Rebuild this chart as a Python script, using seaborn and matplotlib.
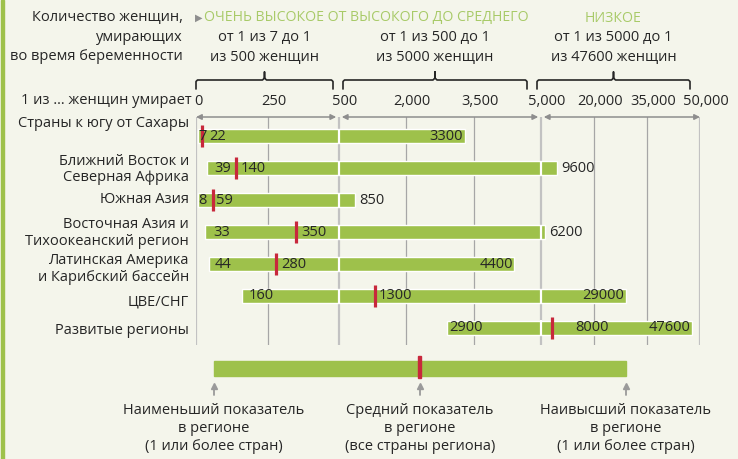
import numpy as np
import matplotlib.pyplot as plt
import matplotlib.transforms as mtransforms
from matplotlib.patches import Rectangle
from matplotlib.lines import Line2D
import seaborn as sns

# данные: риск материнской смертности (1 из N женщин)
regions = ["Страны к югу от Сахары", "Ближний Восток и\nСеверная Африка", "Южная Азия",
           "Восточная Азия и\nТихоокеанский регион", "Латинская Америка\nи Карибский бассейн",
           "ЦВЕ/СНГ", "Развитые регионы"]
lowest = [7, 39, 8, 33, 44, 160, 2900]
average = [22, 140, 59, 350, 280, 1300, 8000]
highest = [3300, 9600, 850, 6200, 4400, 29000, 47600]

tick_values = [0, 250, 500, 2000, 3500, 5000, 20000, 35000, 50000]
tick_labels = ["0", "250", "500", "2,000", "3,500", "5,000", "20,000", "35,000", "50,000"]
breaks = [0, 500, 5000, 50000]
break_px = [0, 143, 345, 504]

# оформление
W, H = 738, 459
BG = "#f4f5eb"
GREEN = "#9ec14b"
LIGHT_GREEN = "#a8ca68"
RED = "#c8283c"
TXT = "#262626"
GRAY = "#8e8e8e"
FS = 10.5

sns.set_theme(style="white")
plt.rcParams["font.family"] = ["Open Sans", "DejaVu Sans"]
plt.rcParams["text.color"] = TXT


def fx(x):
    return x / W


def fy(y):
    return 1 - y / H


def fwd(v):
    return np.interp(v, breaks, break_px)


def inv(p):
    return np.interp(p, break_px, breaks)


fig = plt.figure(figsize=(W / 100, H / 100), dpi=100, facecolor=BG)
ax = fig.add_axes([fx(196), fy(345), 504 / W, 228 / H])
ax.set_facecolor("none")
ax.set_xscale("function", functions=(fwd, inv))
rows = np.arange(len(regions))
row_px = 31.9

# сетка
for v in tick_values:
    if v in breaks:
        ax.axvline(v, color="#c2c2c2", lw=1.6, zorder=1)
    else:
        ax.axvline(v, color="#a6a6a6", lw=0.9, zorder=1)

# полосы
ax.barh(rows, np.array(highest) - np.array(lowest), left=lowest, height=0.44,
        color=GREEN, zorder=2)
for i in rows:
    for b in breaks[1:3]:
        if lowest[i] < b < highest[i]:
            ax.vlines(b, i - 0.23, i + 0.23, color="white", lw=1.6, zorder=3)

sns.scatterplot(x=average, y=rows, marker="|", s=250, color=RED, linewidth=2.3,
                zorder=4, ax=ax, legend=False)

# подписи значений (сдвиги в пикселях)
low_dx = [0, 7, 0, 8, 6, 7, 3]
avg_dx = [7, 5, 3, 5, 5, 4, 24]
outside = [False, True, True, True, False, False, False]
for i in rows:
    ax.annotate(str(lowest[i]), (lowest[i], i), xytext=(low_dx[i] * 0.72, 0),
                textcoords="offset points", ha="left", va="center", fontsize=FS, zorder=5)
    ax.annotate(str(average[i]), (average[i], i), xytext=(avg_dx[i] * 0.72, 0),
                textcoords="offset points", ha="left", va="center", fontsize=FS, zorder=5)
    if outside[i]:
        ax.annotate(str(highest[i]), (highest[i], i), xytext=(3, 0), textcoords="offset points",
                    ha="left", va="center", fontsize=FS, zorder=5)
    else:
        ax.annotate(str(highest[i]), (highest[i], i), xytext=(-1, 0), textcoords="offset points",
                    ha="right", va="center", fontsize=FS, zorder=5)

# названия регионов
label_shift = [-13, 1, -1, 1, 5, 6, 3]
trans = mtransforms.blended_transform_factory(fig.transFigure, ax.transData)
for i in rows:
    ax.text(fx(189), i + label_shift[i] / row_px, regions[i], transform=trans,
            ha="right", va="center", fontsize=FS, linespacing=1.15)

ax.set_xlim(0, 50000)
ax.set_ylim(6.54, -0.61)
ax.set_yticks([])
ax.set_xlabel("")
ax.set_ylabel("")
for s in ax.spines.values():
    s.set_visible(False)

# шкала сверху
ax.xaxis.set_ticks_position("top")
ax.set_xticks(tick_values)
ax.set_xticklabels(tick_labels)
ax.tick_params(axis="x", length=0, pad=6, labelsize=FS, labelcolor=TXT)
for lab, val in zip(ax.get_xticklabels(), tick_values):
    dx = 2 if val == 0 else 6
    lab.set_transform(lab.get_transform() + mtransforms.ScaledTranslation(dx / 100, 0, fig.dpi_scale_trans))

# стрелки диапазонов
for a, b in zip(breaks[:-1], breaks[1:]):
    ax.annotate("", xy=(b, -0.61), xytext=(a, -0.61), annotation_clip=False,
                arrowprops=dict(arrowstyle="<|-|>", color=GRAY, lw=1.1, mutation_scale=8,
                                shrinkA=2 if a else 0, shrinkB=2 if b < 50000 else 0))

fig.text(fx(192), fy(100), "1 из … женщин умирает", ha="right", va="center", fontsize=FS)

# заголовок
for k, line in enumerate(["Количество женщин,", "умирающих", "во время беременности"]):
    fig.text(fx(183), fy(18 + 19.5 * k), line, ha="right", va="center", fontsize=FS)

fig.text(fx(195), fy(18), "▶", ha="left", va="center", fontsize=7, color=GRAY,
         family="DejaVu Sans")
fig.text(fx(204), fy(18), "ОЧЕНЬ ВЫСОКОЕ ОТ ВЫСОКОГО ДО СРЕДНЕГО", ha="left", va="center",
         fontsize=10.2, color=LIGHT_GREEN)
fig.text(fx(613), fy(18), "НИЗКОЕ", ha="center", va="center", fontsize=10.2, color=LIGHT_GREEN)

groups = [("от 1 из 7 до 1\nиз 500 женщин", 196, 333),
          ("от 1 из 500 до 1\nиз 5000 женщин", 343, 527),
          ("от 1 из 5000 до 1\nиз 47600 женщин", 537, 690)]
for text, x0, x1 in groups:
    xc = (x0 + x1) / 2
    lines = text.split("\n")
    fig.text(fx(xc), fy(38), lines[0], ha="center", va="center", fontsize=FS)
    fig.text(fx(xc), fy(57), lines[1], ha="center", va="center", fontsize=FS)
    pts = [(x0, 89), (x0, 81.5), (x0 + 1.5, 80), (xc - 2, 80), (xc, 78), (xc, 72),
           (xc, 78), (xc + 2, 80), (x1 - 1.5, 80), (x1, 81.5), (x1, 89)]
    fig.add_artist(Line2D([fx(p[0]) for p in pts], [fy(p[1]) for p in pts],
                          color=TXT, lw=1.2, transform=fig.transFigure))

# зелёная линия слева
fig.add_artist(Rectangle((fx(1), 0), 3 / W, 1, color=GREEN, transform=fig.transFigure))

# пояснение внизу
fig.add_artist(Rectangle((fx(214), fy(376)), 412 / W, 15 / H, color=GREEN,
                         transform=fig.transFigure))
fig.add_artist(Rectangle((fx(418.5), fy(378)), 3 / W, 22 / H, color=RED,
                         transform=fig.transFigure))
notes = [(214, "Наименьший показатель\nв регионе\n(1 или более стран)"),
         (420, "Средний показатель\nв регионе\n(все страны региона)"),
         (626, "Наивысший показатель\nв регионе\n(1 или более стран)")]
for x, note in notes:
    fig.add_artist(Line2D([fx(x), fx(x)], [fy(395), fy(388)], color="#9a9a9a", lw=1.3,
                          transform=fig.transFigure))
    fig.add_artist(Line2D([fx(x)], [fy(386)], marker="^", ms=5, color="#9a9a9a",
                          transform=fig.transFigure))
    for k, line in enumerate(note.split("\n")):
        fig.text(fx(x), fy(410 + 18.5 * k), line, ha="center", va="center", fontsize=FS)

fig.savefig("out.png", dpi=100, facecolor=BG)
